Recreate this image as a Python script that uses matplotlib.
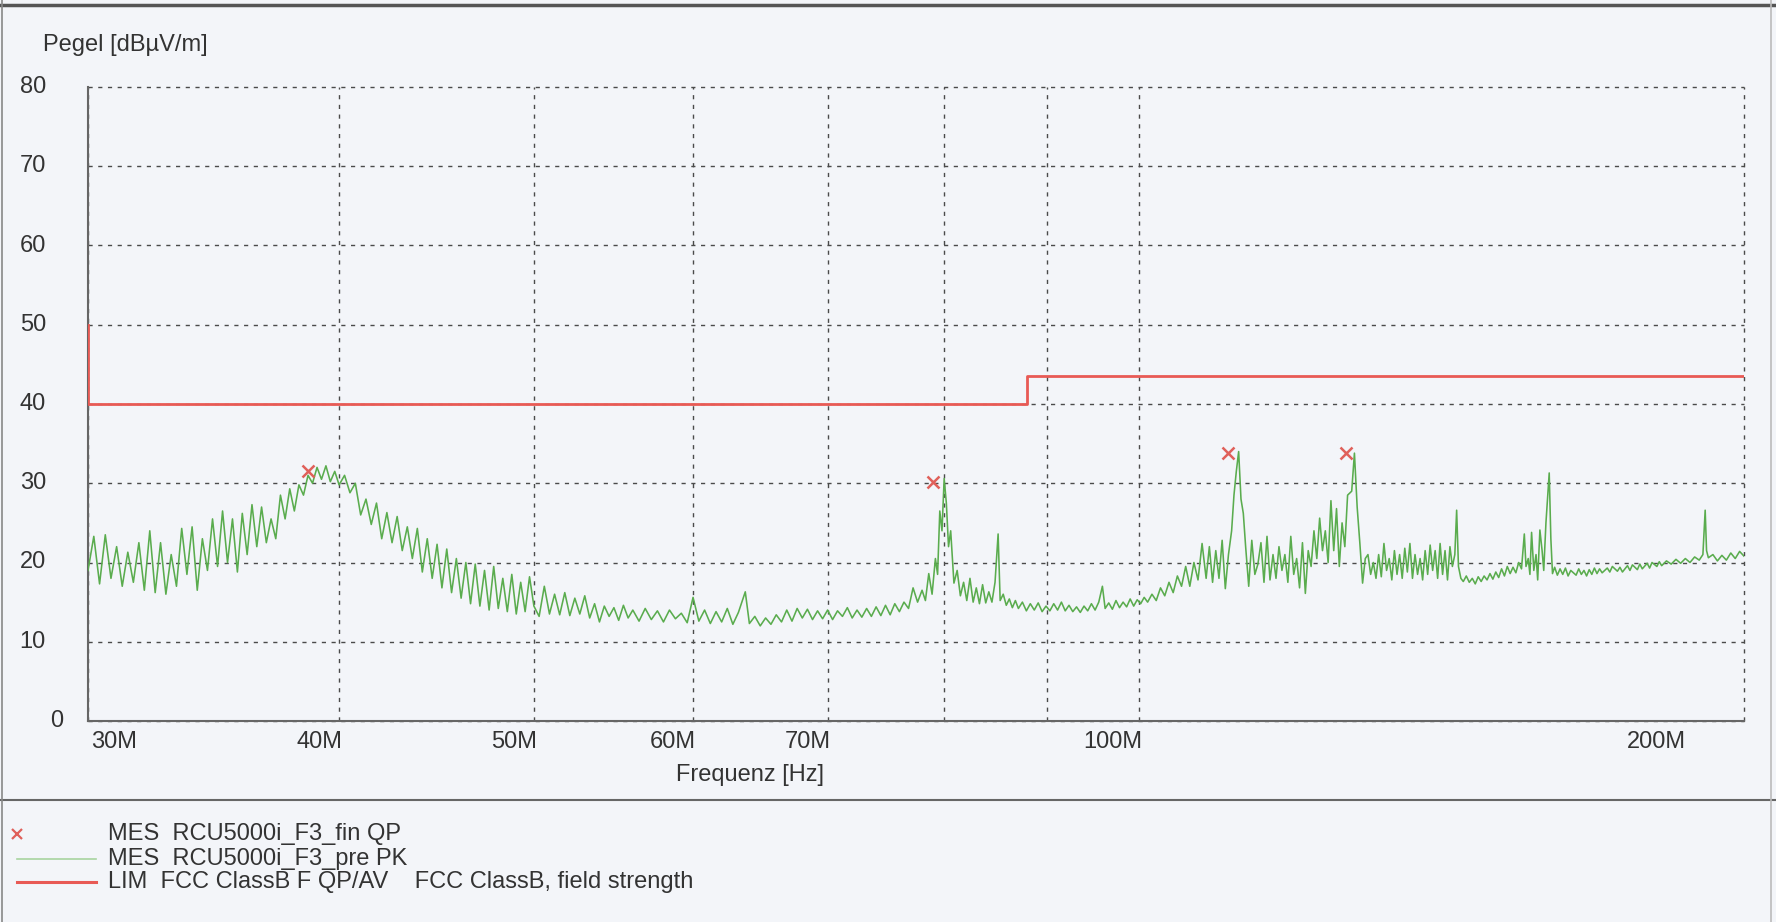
import matplotlib
matplotlib.use('Agg')
import matplotlib.pyplot as plt
import matplotlib.transforms as mtransforms
from matplotlib.lines import Line2D
from matplotlib.ticker import NullLocator
import numpy as np

plt.rcParams['font.family'] = ['Liberation Sans', 'DejaVu Sans']

# pre-scan PK trace in pieces (MHz, dBuV/m)
f_a = [30.0, 30.2, 30.4, 30.6, 30.8, 31.0, 31.2, 31.4, 31.6, 31.8, 32.0, 32.2, 32.4, 32.6,
       32.8, 33.0, 33.2, 33.4, 33.6, 33.8, 34.0, 34.2, 34.4, 34.6, 34.8, 35.0, 35.2, 35.4,
       35.6, 35.8, 36.0, 36.2, 36.4, 36.6, 36.8, 37.0, 37.2, 37.4, 37.6, 37.8, 38.0, 38.2,
       38.4, 38.6, 38.8, 39.0, 39.2, 39.4, 39.6, 39.8, 40.0]
l_a = [19.0, 23.3, 17.3, 23.5, 18.0, 22.0, 17.0, 21.3, 17.5, 22.5, 16.5, 24.0, 16.2, 22.5,
       16.0, 21.0, 17.0, 24.3, 18.5, 24.5, 16.5, 23.0, 19.0, 25.5, 19.5, 26.5, 20.0, 25.5,
       18.8, 26.2, 21.0, 27.3, 22.0, 27.0, 22.5, 25.5, 23.0, 28.5, 25.5, 29.3, 26.5, 29.8,
       28.5, 31.0, 30.0, 32.0, 30.5, 32.2, 30.2, 31.5, 29.8]

f_b = [40.25, 40.5, 40.75, 41.0, 41.25, 41.5, 41.75, 42.0, 42.25, 42.5, 42.75, 43.0, 43.25,
       43.5, 43.75, 44.0, 44.25, 44.5, 44.75, 45.0, 45.25, 45.5, 45.75, 46.0, 46.25, 46.5,
       46.75, 47.0, 47.25, 47.5, 47.75, 48.0, 48.25, 48.5, 48.75, 49.0, 49.25, 49.5, 49.75,
       50.0, 50.3, 50.6, 50.9, 51.2, 51.5, 51.8, 52.1, 52.4, 52.7, 53.0, 53.3, 53.6, 53.9,
       54.2, 54.5, 54.8, 55.1, 55.4, 55.7, 56.0]
l_b = [31.0, 28.8, 30.0, 26.0, 28.0, 24.8, 27.5, 23.0, 26.3, 22.5, 25.8, 21.5, 24.5,
       20.5, 24.3, 18.8, 23.0, 18.0, 22.3, 16.8, 21.7, 16.2, 20.5, 15.5, 20.0, 14.8,
       19.8, 14.5, 19.0, 14.0, 19.5, 14.2, 18.0, 13.8, 18.5, 13.5, 17.5, 13.8, 18.2,
       14.5, 13.2, 17.0, 13.5, 16.0, 13.4, 16.2, 13.3, 15.5, 13.5, 15.8, 13.0, 14.8, 12.5,
       14.5, 13.2, 14.3, 12.7, 14.6, 13.0, 14.0]

f_c = [56.4, 56.8, 57.2, 57.6, 58.0, 58.4, 58.8, 59.2, 59.6, 60.0, 60.4, 60.8, 61.2, 61.6,
       62.0, 62.4, 62.8, 63.2, 63.7, 64.0, 64.4, 64.8, 65.2, 65.6, 66.0, 66.4, 66.8, 67.2,
       67.6, 68.0, 68.4, 68.8, 69.2, 69.6, 70.0, 70.4, 70.8, 71.2, 71.6, 72.0, 72.4, 72.8,
       73.2, 73.6, 74.0, 74.4, 74.8, 75.2, 75.6, 76.0, 76.4, 76.8, 77.2, 77.6, 78.0]
l_c = [12.6, 14.2, 12.8, 13.9, 12.5, 14.0, 12.9, 13.6, 12.4, 15.6, 12.6, 14.0, 12.3, 13.8,
       12.5, 14.2, 12.2, 13.7, 16.3, 12.3, 13.2, 12.0, 13.0, 12.2, 13.4, 12.5, 14.0, 12.6,
       14.2, 13.0, 14.1, 12.8, 13.9, 12.9, 14.0, 12.8, 13.9, 13.2, 14.3, 13.0, 14.0, 13.1,
       14.2, 13.2, 14.4, 13.3, 14.6, 13.4, 14.8, 13.8, 15.0, 14.2, 16.8, 15.0, 16.5]

f_d = [78.3, 78.6, 78.9, 79.2, 79.4, 79.6, 79.8, 80.0, 80.2, 80.4, 80.6, 80.9, 81.2, 81.5,
       81.8, 82.1, 82.4, 82.7, 83.0, 83.3, 83.6, 83.9, 84.2, 84.5, 84.8, 85.1, 85.3, 85.6,
       85.9, 86.2, 86.5, 86.8, 87.1, 87.5, 87.9, 88.3, 88.7, 89.1, 89.5, 89.9, 90.3, 90.7,
       91.1, 91.5, 91.9, 92.3, 92.7, 93.1, 93.5, 93.9, 94.3, 94.7, 95.1, 95.5, 95.9, 96.2,
       96.6, 97.0, 97.4, 97.8, 98.2, 98.6, 99.0, 99.4, 99.8]
l_d = [15.2, 18.6, 16.0, 20.5, 18.5, 26.5, 24.0, 30.6, 27.5, 22.0, 24.0, 17.4, 19.0, 15.8,
       17.5, 15.2, 18.0, 15.0, 16.8, 14.8, 17.2, 14.9, 16.3, 15.0, 17.5, 23.6, 15.2, 16.0,
       14.6, 15.4, 14.3, 15.2, 14.2, 15.0, 13.9, 14.8, 14.0, 14.9, 13.8, 14.5, 13.9, 14.8,
       14.0, 15.0, 13.9, 14.6, 13.8, 14.4, 13.7, 14.5, 13.9, 14.8, 14.0, 15.0, 17.0, 14.2,
       14.9, 14.1, 15.2, 14.3, 15.0, 14.4, 15.4, 14.5, 15.3]

f_e = [100.2, 100.6, 101.0, 101.5, 102.0, 102.5, 103.0, 103.5, 104.0, 104.5, 105.0, 105.5,
       106.0, 106.5, 107.0, 107.5, 108.0, 108.4, 108.8, 109.2, 109.6, 110.0, 110.4, 110.8,
       111.2, 111.5, 111.8, 112.1, 112.4, 112.7, 113.0, 113.4, 113.8, 114.2, 114.6, 115.0,
       115.4, 115.8, 116.2, 116.6, 117.0, 117.4, 117.8, 118.2, 118.6, 119.0, 119.4, 119.8,
       120.2, 120.6, 121.0, 121.4, 121.8, 122.2, 122.6, 123.0, 123.4, 123.8, 124.2, 124.6,
       125.0, 125.4, 125.8, 126.2, 126.6, 127.0, 127.6, 128.0, 128.4, 128.8, 129.2, 129.6,
       130.0, 130.4, 130.8, 131.2, 131.6, 132.0, 132.4, 132.8, 133.2, 133.6, 134.0, 134.4,
       134.8, 135.2, 135.6, 136.0, 136.4, 136.8, 137.2, 137.6, 138.0, 138.4, 138.8, 139.2,
       139.6, 140.0, 140.4, 140.8, 141.2, 141.6, 142.0, 142.4, 142.8, 143.2, 143.6, 143.9,
       144.2, 144.6]
l_e = [14.8, 15.6, 15.0, 16.0, 15.2, 16.8, 15.8, 17.5, 16.2, 18.3, 17.0, 19.5,
       17.0, 20.0, 17.8, 22.4, 18.0, 22.0, 17.5, 21.5, 18.0, 22.8, 16.7, 21.0,
       24.0, 28.5, 31.5, 34.0, 28.0, 26.2, 22.0, 17.0, 22.8, 18.5, 19.8, 22.5,
       17.5, 23.3, 17.8, 21.0, 18.0, 22.0, 19.0, 21.0, 17.5, 23.3, 18.5, 20.5,
       16.8, 22.5, 16.1, 21.5, 19.5, 24.0, 20.5, 25.6, 21.5, 24.0, 20.0, 27.8,
       21.5, 26.8, 19.5, 25.0, 22.0, 28.5, 29.0, 33.8, 27.0, 22.4, 17.4, 20.5,
       21.0, 18.5, 20.0, 18.0, 21.0, 18.2, 22.4, 19.0, 20.5, 17.8, 21.5, 18.5,
       21.0, 18.0, 21.8, 18.8, 22.4, 18.0, 21.0, 18.5, 20.5, 17.8, 21.5, 18.5,
       22.2, 19.0, 21.5, 18.0, 22.4, 18.5, 21.5, 17.8, 22.0, 19.5, 21.0, 26.6,
       19.5, 18.0]

f_f = [145.0, 145.5, 146.0, 146.5, 147.0, 147.5, 148.0, 148.5, 149.0, 149.5, 150.0, 150.5,
       151.0, 151.5, 152.0, 152.5, 153.0, 153.5, 154.0, 154.5, 155.0, 155.5, 155.8, 156.2,
       156.5, 156.8, 157.2, 157.6, 157.9, 158.3, 158.7, 159.0, 159.4, 160.0, 160.3, 160.6,
       161.0, 161.5, 162.0, 162.5, 163.0, 163.5, 164.0, 165.0, 165.5, 166.0, 166.5, 167.0,
       167.5, 168.0, 168.5, 169.0, 169.5, 170.0, 171.0, 171.5, 172.0, 173.0, 173.5, 174.0,
       175.0, 175.5, 176.0, 177.0, 177.5, 178.0, 179.0, 179.5, 180.0, 181.0, 181.5, 182.0,
       183.0, 184.0, 185.0, 186.0, 187.0, 188.0, 189.0, 190.0, 190.8, 191.3, 191.6, 192.0,
       193.0, 194.0, 195.0, 196.0, 197.0, 198.0, 199.0, 200.0]
l_f = [17.6, 18.3, 17.5, 18.0, 17.3, 18.2, 17.6, 18.3, 17.8, 18.6, 17.9, 18.8,
       18.1, 19.2, 18.3, 19.5, 18.6, 19.4, 18.7, 20.0, 19.2, 23.6, 19.5, 20.5,
       18.5, 23.8, 19.0, 21.0, 17.8, 24.1, 21.5, 19.0, 25.0, 31.3, 23.0, 18.6,
       19.4, 18.4, 19.2, 18.5, 19.3, 18.3, 19.0, 18.4, 19.2, 18.5, 19.0, 18.3,
       19.1, 18.5, 19.3, 18.6, 19.2, 18.7, 19.3, 18.8, 19.5, 18.9, 19.4, 18.8,
       19.6, 19.0, 19.7, 19.1, 19.8, 19.2, 19.9, 19.3, 20.0, 19.5, 20.1, 19.6,
       20.2, 19.8, 20.4, 19.9, 20.5, 20.0, 20.7, 20.3, 21.0, 26.6, 21.5, 20.6,
       21.0, 20.2, 20.9, 20.3, 21.2, 20.5, 21.4, 20.8]

# final QP points
qp_f = [38.6, 79.0, 110.7, 126.8]
qp_level = [31.5, 30.2, 33.8, 33.8]

# FCC class B limit
lim_f = [30, 30, 88, 88, 200]
lim_level = [50, 40, 40, 43.5, 43.5]

x_grid = [30, 40, 50, 60, 70, 80, 90, 100, 200]
x_lab = [30, 40, 50, 60, 70, 100, 200]
y_ticks = [0, 10, 20, 30, 40, 50, 60, 70, 80]

pk_f = np.array(f_a + f_b + f_c + f_d + f_e + f_f) * 1e6
pk_level = np.array(l_a + l_b + l_c + l_d + l_e + l_f)

bg = '#f3f5f9'
txt = '#333333'
W, H = 1776, 922
fig = plt.figure(figsize=(W / 100, H / 100), dpi=100, facecolor=bg)
ax = fig.add_axes([88 / W, 1 - 721 / H, (1744 - 88) / W, (721 - 87) / H])
ax.set_facecolor(bg)

ax.plot(pk_f, pk_level, color='#5aac4e', lw=1.15, zorder=3)
ax.plot(np.array(lim_f) * 1e6, lim_level, color='#e85a55', lw=2.0, zorder=4)
ax.plot(np.array(qp_f) * 1e6, qp_level, 'x', color='#e0605a', ms=8, mew=1.8, zorder=5)

ax.set_xscale('log')
ax.set_xlim(30e6, 200e6)
ax.set_ylim(0, 80)
ax.set_xticks(np.array(x_grid) * 1e6)
ax.xaxis.set_minor_locator(NullLocator())
ax.set_yticks(y_ticks)
ax.tick_params(length=0, labelbottom=False, labelleft=False)
ax.grid(True, color='#4a4a4a', lw=1.0, ls=(0, (3, 4)))
for gl in ax.get_xgridlines() + ax.get_ygridlines():
    gl.set_clip_on(False)
for s in ['top', 'right']:
    ax.spines[s].set_visible(False)
for s in ['left', 'bottom']:
    ax.spines[s].set_color('#666666')
    ax.spines[s].set_linewidth(1.5)

fs = 17
for v in y_ticks:
    ax.text(-0.0254 if v else -0.0151, v, str(v), ha='right', va='center',
            fontsize=fs, color=txt, transform=ax.get_yaxis_transform())

for v in x_lab:
    if v == 30:
        dx, ha = 3, 'left'
    elif v == 200:
        dx, ha = -58, 'right'
    else:
        dx, ha = 3, 'right'
    tr = mtransforms.offset_copy(ax.get_xaxis_transform(), fig=fig, x=dx, y=0, units='dots')
    ax.text(v * 1e6, -0.033, '%dM' % v, ha=ha, va='center', fontsize=fs, color=txt, transform=tr)

fig.text(750 / W, 1 - 775 / H, 'Frequenz [Hz]', ha='center', va='center', fontsize=fs, color=txt)
fig.text(43 / W, 1 - 45 / H, 'Pegel [dBµV/m]', ha='left', va='center', fontsize=fs, color=txt)

# frame lines
fig.add_artist(Line2D([0, 1], [1 - 5 / H] * 2, color='#555555', lw=2.5))
fig.add_artist(Line2D([0, 1], [1 - 800 / H] * 2, color='#666666', lw=1.5))
fig.add_artist(Line2D([2 / W] * 2, [0, 1], color='#888888', lw=1.2))
fig.add_artist(Line2D([1771 / W] * 2, [0, 1], color='#bbbbbb', lw=1.2))

# legend
rows = [834, 859, 882]
fig.add_artist(Line2D([17 / W], [1 - rows[0] / H], marker='x', color='#e0605a', ms=7, mew=1.6, ls='none'))
fig.add_artist(Line2D([17 / W, 96 / W], [1 - rows[1] / H] * 2, color='#a8d4a0', lw=1.2))
fig.add_artist(Line2D([17 / W, 96 / W], [1 - rows[2] / H] * 2, color='#e85a55', lw=2.2))
leg_txt = ['MES  RCU5000i_F3_fin QP', 'MES  RCU5000i_F3_pre PK',
           'LIM  FCC ClassB F QP/AV    FCC ClassB, field strength']
for r, t in zip(rows, leg_txt):
    fig.text(108 / W, 1 - r / H, t, ha='left', va='center', fontsize=fs, color=txt)

fig.savefig('out.png', dpi=100, facecolor=bg)
